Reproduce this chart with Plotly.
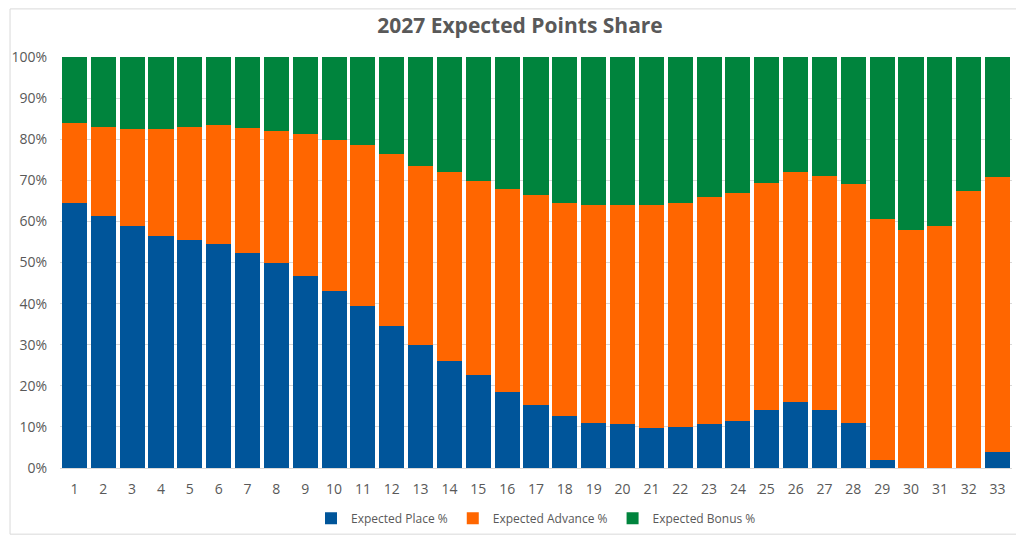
import plotly.graph_objects as go

# rank positions 1..33
positions = [str(i) for i in range(1, 34)]

# share of expected points, in percent
place_pct = [64.4, 61.4, 59.0, 56.5, 55.5, 54.4, 52.4, 49.9, 46.7, 43.1,
             39.4, 34.6, 29.9, 26.1, 22.6, 18.5, 15.4, 12.6, 11.0, 10.6,
             9.7, 10.0, 10.6, 11.5, 14.1, 16.1, 14.1, 11.0, 2.0, 0.0,
             0.0, 0.0, 4.0]
advance_pct = [19.6, 21.5, 23.4, 25.9, 27.4, 29.0, 30.3, 32.2, 34.6, 36.8,
               39.2, 41.7, 43.5, 45.9, 47.3, 49.4, 51.1, 51.8, 53.0, 53.4,
               54.3, 54.4, 55.4, 55.4, 55.3, 56.0, 57.0, 58.0, 58.5, 58.0,
               59.0, 67.4, 66.9]
bonus_pct = [16.0, 17.1, 17.6, 17.6, 17.1, 16.6, 17.3, 17.9, 18.7, 20.1,
             21.4, 23.7, 26.6, 28.0, 30.1, 32.1, 33.5, 35.6, 36.0, 36.0,
             36.0, 35.6, 34.0, 33.1, 30.6, 27.9, 28.9, 31.0, 39.5, 42.0,
             41.0, 32.6, 29.1]

series = [
    ("Expected Place %", place_pct, "#00559A"),
    ("Expected Advance %", advance_pct, "#FF6600"),
    ("Expected Bonus %", bonus_pct, "#00843D"),
]

fig = go.Figure()
for name, vals, color in series:
    fig.add_trace(go.Bar(
        x=positions, y=[v / 100 for v in vals], name=name,
        marker=dict(color=color, line=dict(width=0)),
    ))

# page body has an 8px margin, so margins are shifted to compensate
fig.update_layout(
    width=1024, height=537,
    barmode="stack", bargap=0.13,
    paper_bgcolor="white", plot_bgcolor="white",
    margin=dict(l=52, r=20, t=49, b=77),
    font=dict(family="Open Sans, Arial, sans-serif", color="#595959", size=14),
    title=dict(text="<b>2027 Expected Points Share</b>", x=0.5, xanchor="center",
               y=0.968, yanchor="middle",
               font=dict(size=21, color="#595959")),
    legend=dict(orientation="h", x=0.5, xanchor="center", y=-0.122, yanchor="middle",
                font=dict(size=12, color="#595959"), itemsizing="constant",
                traceorder="normal", itemwidth=30),
    showlegend=True,
)

fig.update_xaxes(
    type="category", showgrid=False, showline=True, linecolor="#D9D9D9",
    linewidth=1, ticks="", ticklabelstandoff=8, automargin=False,
    tickfont=dict(size=14, color="#595959"),
)
fig.update_yaxes(
    range=[0, 1], tickformat=".0%", dtick=0.1, showgrid=True,
    gridcolor="#D9D9D9", gridwidth=1, zeroline=False, showline=False,
    ticks="", ticklabelstandoff=12, automargin=False,
    tickfont=dict(size=14, color="#595959"),
)

# light chart border like the spreadsheet chart frame
fig.add_shape(type="rect", xref="paper", yref="paper",
              x0=-0.0525, x1=1.0065, y0=-0.161, y1=1.117,
              line=dict(color="#D9D9D9", width=1), layer="below")

fig.write_html("out.html")
